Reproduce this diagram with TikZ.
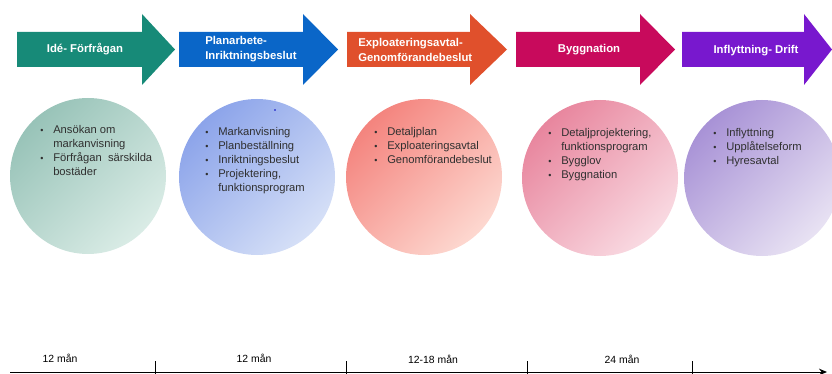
\documentclass[tikz,border=0pt]{standalone}
\usepackage{fontspec}
\setmainfont{Liberation Sans}
\usetikzlibrary{arrows.meta}
\definecolor{ateal}{HTML}{178A78}
\definecolor{ablue}{HTML}{0A66C8}
\definecolor{aorange}{HTML}{E0502C}
\definecolor{amag}{HTML}{C80A5C}
\definecolor{apurp}{HTML}{7818CE}
\definecolor{c1d}{HTML}{98C3B8}\definecolor{c1l}{HTML}{DAECE6}
\definecolor{c2d}{HTML}{8CA4EA}\definecolor{c2l}{HTML}{D6E0F7}
\definecolor{c3d}{HTML}{F4847E}\definecolor{c3l}{HTML}{FDD8D0}
\definecolor{c4d}{HTML}{E8869E}\definecolor{c4l}{HTML}{F9DAE2}
\definecolor{c5d}{HTML}{A892D6}\definecolor{c5l}{HTML}{E8E2F3}
\definecolor{txt}{HTML}{303030}
\newcommand\phasearrow[4]{%
  \fill[#4] (#1,32) -- (#2,32) -- (#2,14) -- (#3,49.5) -- (#2,85) -- (#2,67) -- (#1,67) -- cycle;}
\tikzset{
  atext/.style={text=white, font=\fontsize{8.5}{11.2}\selectfont\bfseries, inner sep=0pt},
  bubble/.style={circle, draw=none, inner sep=0pt, minimum size=117pt},
  bl/.style={anchor=base west, inner sep=0pt, text=txt, font=\fontsize{8.4}{10}\selectfont},
  tl/.style={anchor=base, inner sep=0pt, text=black, font=\fontsize{7.8}{9}\selectfont},
}
\newcommand\bul{\makebox[9.75pt][l]{\raisebox{0.3pt}{\scalebox{0.8}{\textbullet}}}}
\newcommand\ind{\hspace*{9.75pt}}
\begin{document}
\begin{tikzpicture}[x=0.75pt,y=-0.75pt]
\useasboundingbox (0,0) rectangle (832,374);
% phase arrows
\phasearrow{17}{142}{175}{ateal}
\phasearrow{179}{303}{338}{ablue}
\phasearrow{347}{470}{507}{aorange}
\phasearrow{516}{640}{675}{amag}
\phasearrow{682}{804}{832}{apurp}
\node[atext] (p1) at (85,49.5) {Idé- Förfrågan};
\node[atext, align=left, anchor=west] (p2) at (205,49.5) {Planarbete-\\Inriktningsbeslut};
\node[atext, align=left, anchor=west] (p3) at (358,49.5) {Exploateringsavtal-\\Genomförandebeslut};
\node[atext] (p4) at (589,49.5) {Byggnation};
\node[atext] (p5) at (756,50.5) {Inflyttning- Drift};
% circles
\node[bubble, top color=c1d, bottom color=c1l, shading angle=45] (c1) at (88,176) {};
\node[bubble, top color=c2d, bottom color=c2l, shading angle=45] (c2) at (257,177) {};
\node[bubble, top color=c3d, bottom color=c3l, shading angle=45] (c3) at (424,177) {};
\node[bubble, top color=c4d, bottom color=c4l, shading angle=45] (c4) at (600,178) {};
\node[bubble, top color=c5d, bottom color=c5l, shading angle=45] (c5) at (762,178) {};
\fill[blue!75!black] (275,110) circle (0.9);
% circle 1
\node[bl] (c1a) at (40,134) {\bul Ansökan om};
\node[bl] (c1b) at (40,148) {\ind markanvisning};
\node[bl] (c1c) at (40,162) {\bul Förfrågan\ \ särskilda};
\node[bl] (c1d) at (40,176) {\ind bostäder};
% circle 2
\node[bl] (c2a) at (205,136) {\bul Markanvisning};
\node[bl] (c2b) at (205,150) {\bul Planbeställning};
\node[bl] (c2c) at (205,164) {\bul Inriktningsbeslut};
\node[bl] (c2d) at (205,178) {\bul Projektering,};
\node[bl] (c2e) at (205,192) {\ind funktionsprogram};
% circle 3
\node[bl] (c3a) at (374,136) {\bul Detaljplan};
\node[bl] (c3b) at (374,150) {\bul Exploateringsavtal};
\node[bl] (c3c) at (374,164) {\bul Genomförandebeslut};
% circle 4
\node[bl] (c4a) at (548,137) {\bul Detaljprojektering,};
\node[bl] (c4b) at (548,151) {\ind funktionsprogram};
\node[bl] (c4c) at (548,165) {\bul Bygglov};
\node[bl] (c4d) at (548,179) {\bul Byggnation};
% circle 5
\node[bl] (c5a) at (713,137) {\bul Inflyttning};
\node[bl] (c5b) at (713,151) {\bul Upplåtelseform};
\node[bl] (c5c) at (713,165) {\bul Hyresavtal};
% timeline
\coordinate (t0) at (10,372);
\coordinate (t1) at (827,372);
\draw[line width=0.75pt, -{Stealth[length=6pt,width=5pt]}] (t0) -- (t1);
\foreach \x [count=\i] in {155,346,527,692} {
  \coordinate (k\i a) at (\x,361);
  \coordinate (k\i b) at (\x,374);
  \draw[line width=0.6pt] (k\i a) -- (k\i b);
}
\node[tl] (m1) at (60,362) {12 mån};
\node[tl] (m2) at (254,362) {12 mån};
\node[tl] (m3) at (433,363) {12-18 mån};
\node[tl] (m4) at (622,363) {24 mån};
\end{tikzpicture}
\end{document}
